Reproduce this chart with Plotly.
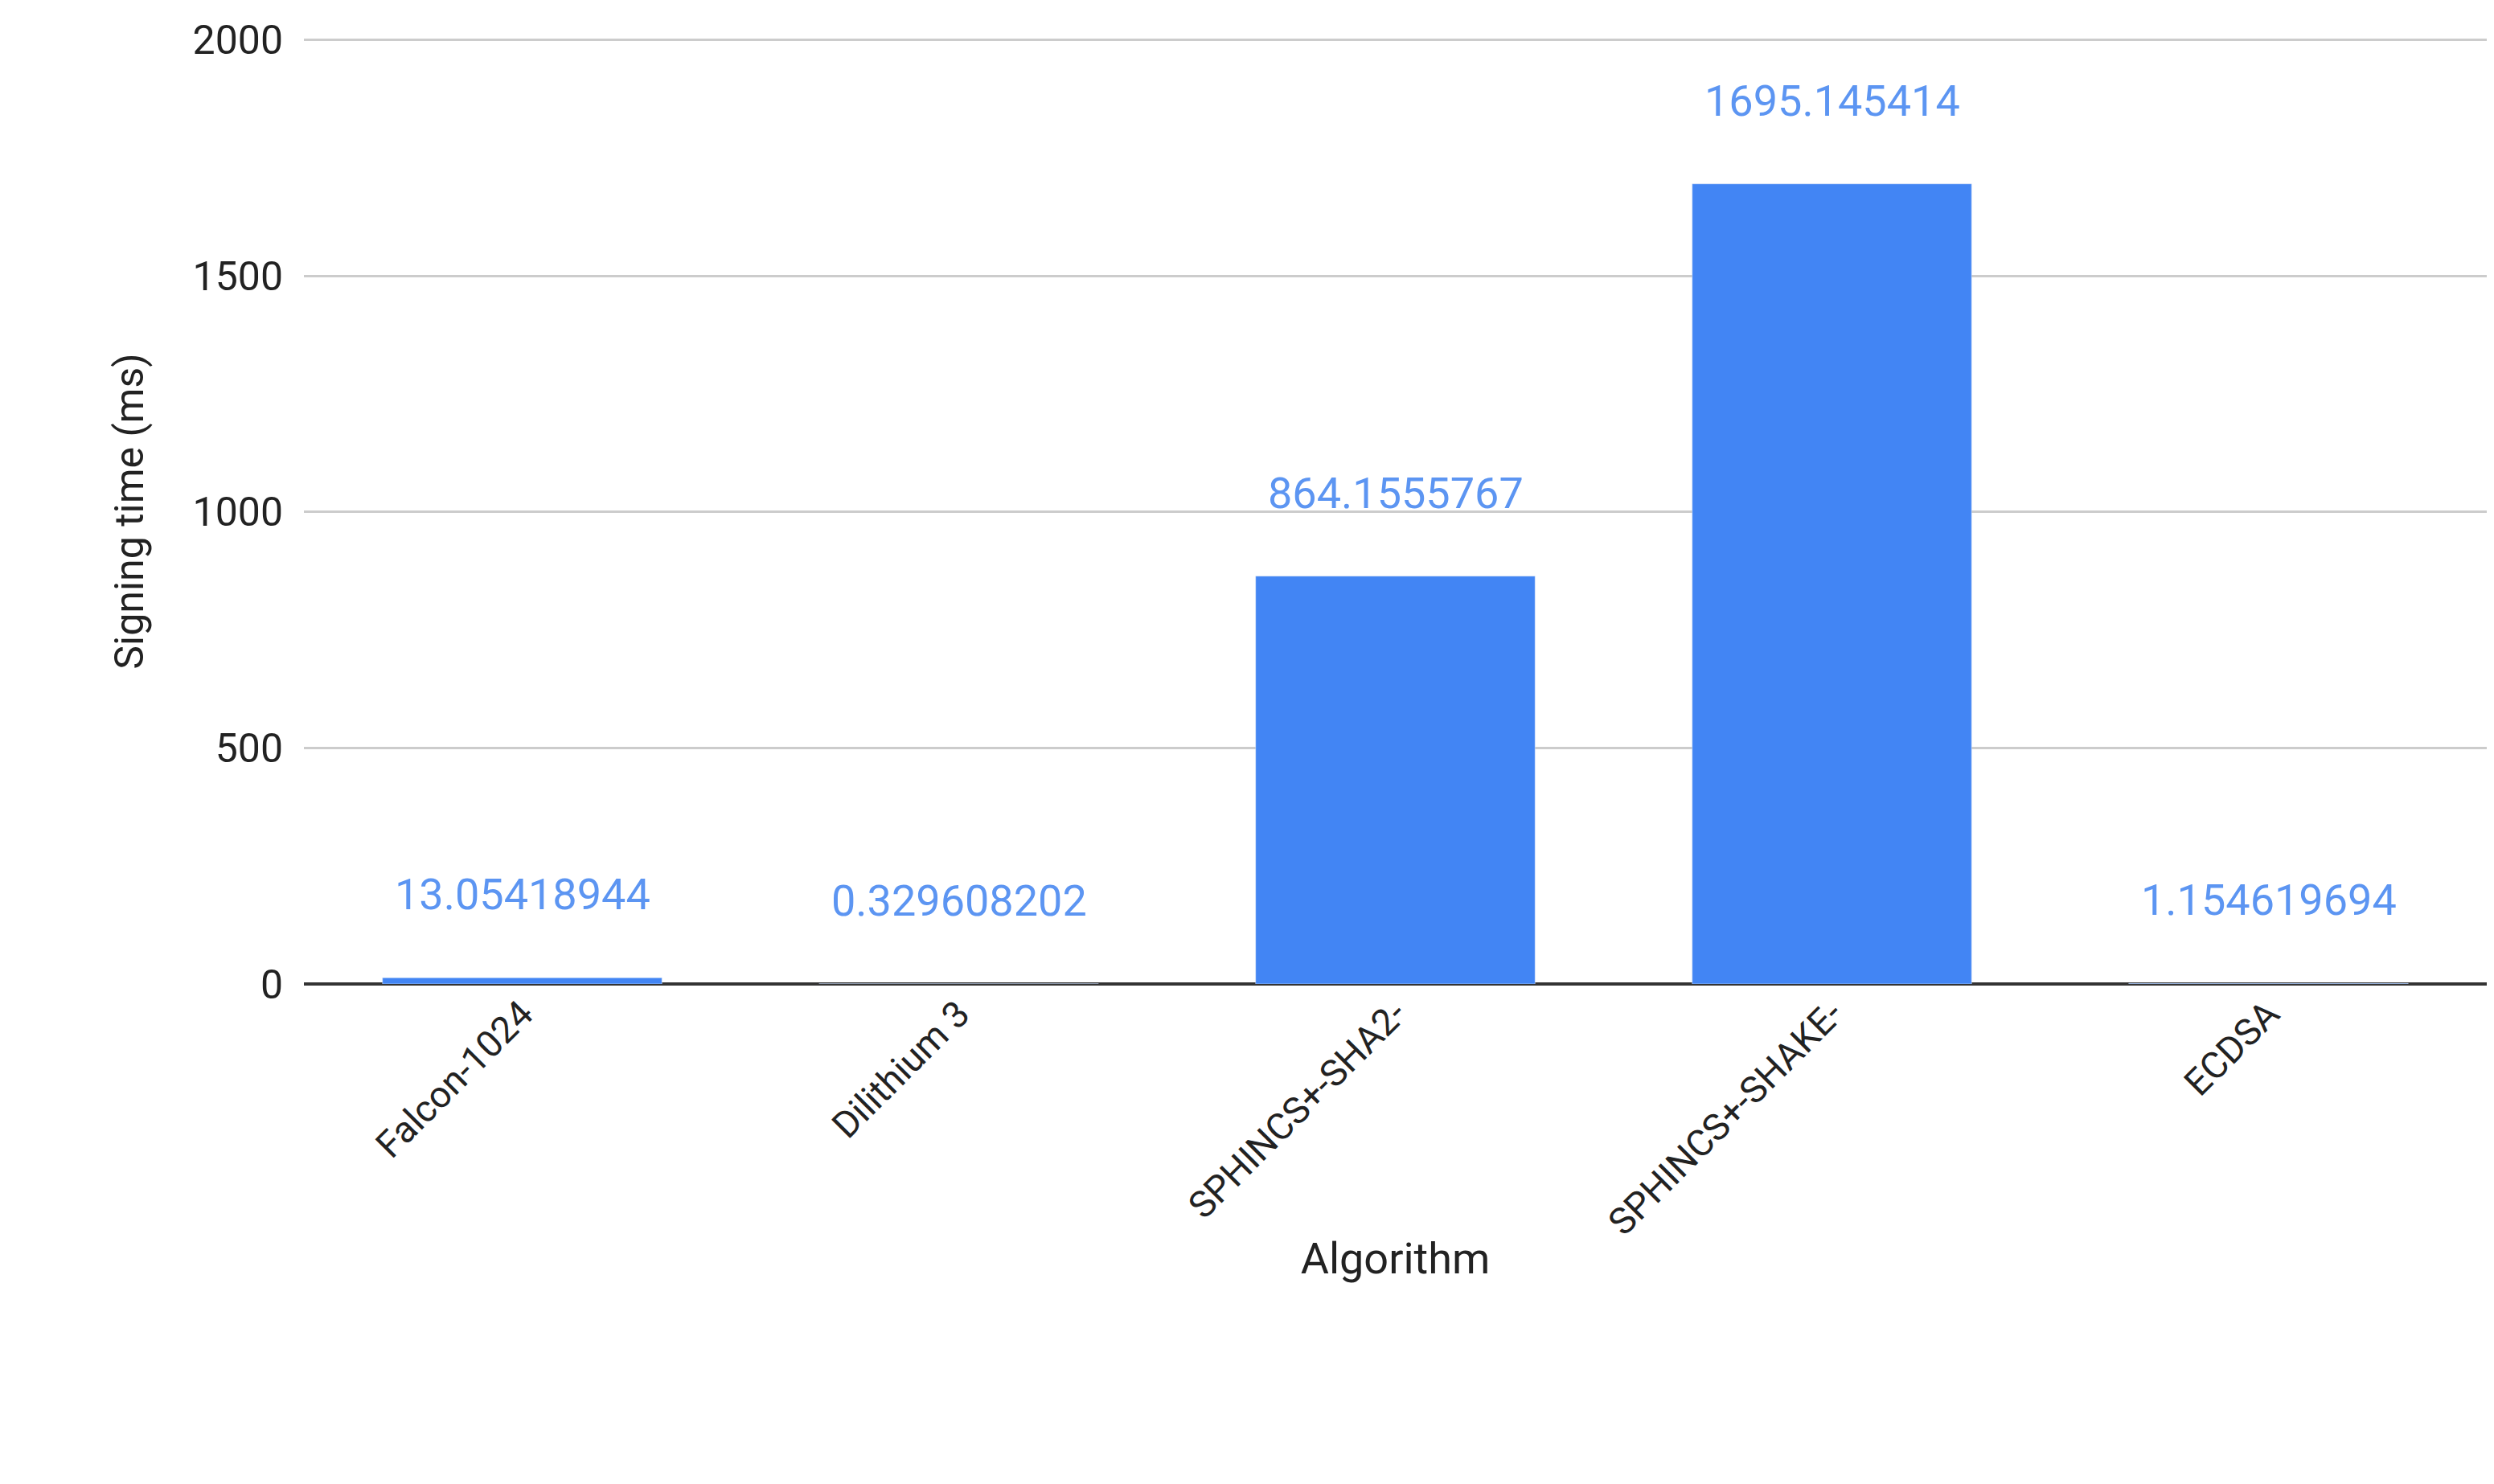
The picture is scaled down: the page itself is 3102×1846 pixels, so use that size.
import plotly.graph_objects as go

algorithms = ["Falcon-1024", "Dilithium 3", "SPHINCS+-SHA2-", "SPHINCS+-SHAKE-", "ECDSA"]
signing_ms = [13.05418944, 0.329608202, 864.1555767, 1695.145414, 1.154619694]
label_text = ["13.05418944", "0.329608202", "864.1555767", "1695.145414", "1.154619694"]

fig = go.Figure()
fig.add_trace(go.Bar(x=algorithms, y=signing_ms, marker=dict(color="#4285f4"), width=0.64))
for a, v, t in zip(algorithms, signing_ms, label_text):
    fig.add_annotation(x=a, y=v, text=t, showarrow=False, yanchor="bottom", yshift=70,
                       font=dict(color="#5c95f2", size=54))
fig.update_layout(
    width=3102, height=1846, plot_bgcolor="white", paper_bgcolor="white",
    font=dict(family="Roboto", color="#222222"),
    margin=dict(l=370, r=17, t=40, b=630, autoexpand=False),
    showlegend=False,
)
fig.update_yaxes(range=[0, 2003], tickvals=[0, 500, 1000, 1500, 2000], gridcolor="#cccccc", gridwidth=3,
                 tickfont=dict(size=50), title=dict(text="Signing time (ms)", font=dict(size=50), standoff=45),
                 zeroline=True, zerolinecolor="#333333", zerolinewidth=4, ticks="", ticklabelstandoff=25,
                 automargin=False)
fig.update_xaxes(tickangle=-45, tickfont=dict(size=46), automargin=False,
                 title=dict(text="Algorithm", font=dict(size=54), standoff=0))
fig.update_layout(xaxis_title_standoff=0)
fig.write_html("out.html")
